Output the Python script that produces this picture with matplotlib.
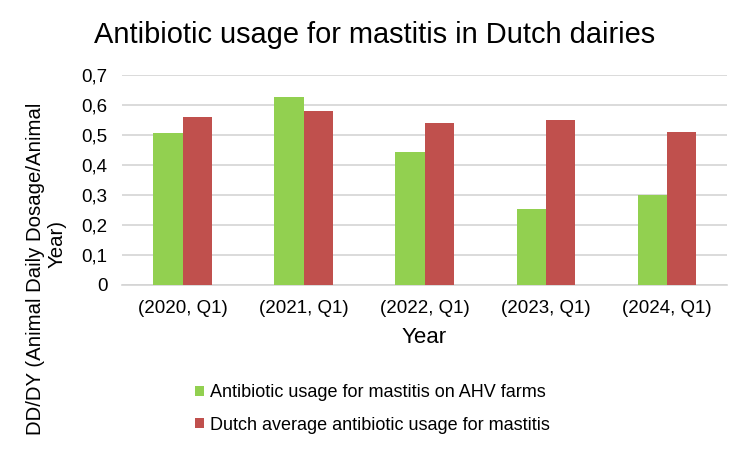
import matplotlib
matplotlib.use("Agg")
import matplotlib.pyplot as plt
import numpy as np

plt.rcParams['font.family'] = ['Liberation Sans', 'DejaVu Sans']

categories = ['(2020, Q1)', '(2021, Q1)', '(2022, Q1)', '(2023, Q1)', '(2024, Q1)']
ahv_farms = [0.507, 0.626, 0.444, 0.254, 0.30]
dutch_avg = [0.56, 0.58, 0.54, 0.55, 0.51]
yticks = [0, 0.1, 0.2, 0.3, 0.4, 0.5, 0.6, 0.7]
ytick_labels = ['0', '0,1', '0,2', '0,3', '0,4', '0,5', '0,6', '0,7']

fig = plt.figure(figsize=(7.5, 4.5), dpi=100)
ax = fig.add_axes([0.1627, 0.3667, 0.8067, 0.4667])

x = np.arange(len(categories))
w = 0.24
ax.bar(x - w / 2, ahv_farms, w, color='#92D050', label='Antibiotic usage for mastitis on AHV farms', zorder=3)
ax.bar(x + w / 2, dutch_avg, w, color='#C0504D', label='Dutch average antibiotic usage for mastitis', zorder=3)

ax.set_xlim(-0.5, len(categories) - 0.5)
ax.set_ylim(0, 0.7)
ax.set_yticks(yticks)
ax.set_yticklabels(ytick_labels)
ax.set_xticks(x)
ax.set_xticklabels(categories)
ax.tick_params(axis='both', length=0, labelsize=13.5, colors='#000000')
ax.tick_params(axis='x', pad=11)
ax.tick_params(axis='y', pad=10.5)
ax.yaxis.grid(True, color='#D4D4D4', linewidth=1.2, zorder=0)
for s in ['top', 'right', 'left']:
    ax.spines[s].set_visible(False)
ax.spines['bottom'].set_color('#D4D4D4')
ax.spines['bottom'].set_linewidth(1.2)

ax.set_xlabel('Year', fontsize=16, labelpad=7)
# y title wraps in two lines, the second one sits a bit higher than centred
fig.text(0.048, 1 - 269 / 450, 'DD/DY (Animal Daily Dosage/Animal', rotation=90,
         ha='center', va='center', fontsize=14.7)
fig.text(0.076, 1 - 244 / 450, 'Year)', rotation=90, ha='center', va='center', fontsize=14.7)
fig.text(0.5, 1 - 43 / 450, 'Antibiotic usage for mastitis in Dutch dairies', fontsize=20.9,
         ha='center', va='baseline')

fig.legend(loc='center left', bbox_to_anchor=(0.238, 1 - 409 / 450), frameon=False, fontsize=13,
           handlelength=0.5, handleheight=0.5, handletextpad=0.35, labelspacing=0.85)

fig.savefig('out.png', dpi=100)
